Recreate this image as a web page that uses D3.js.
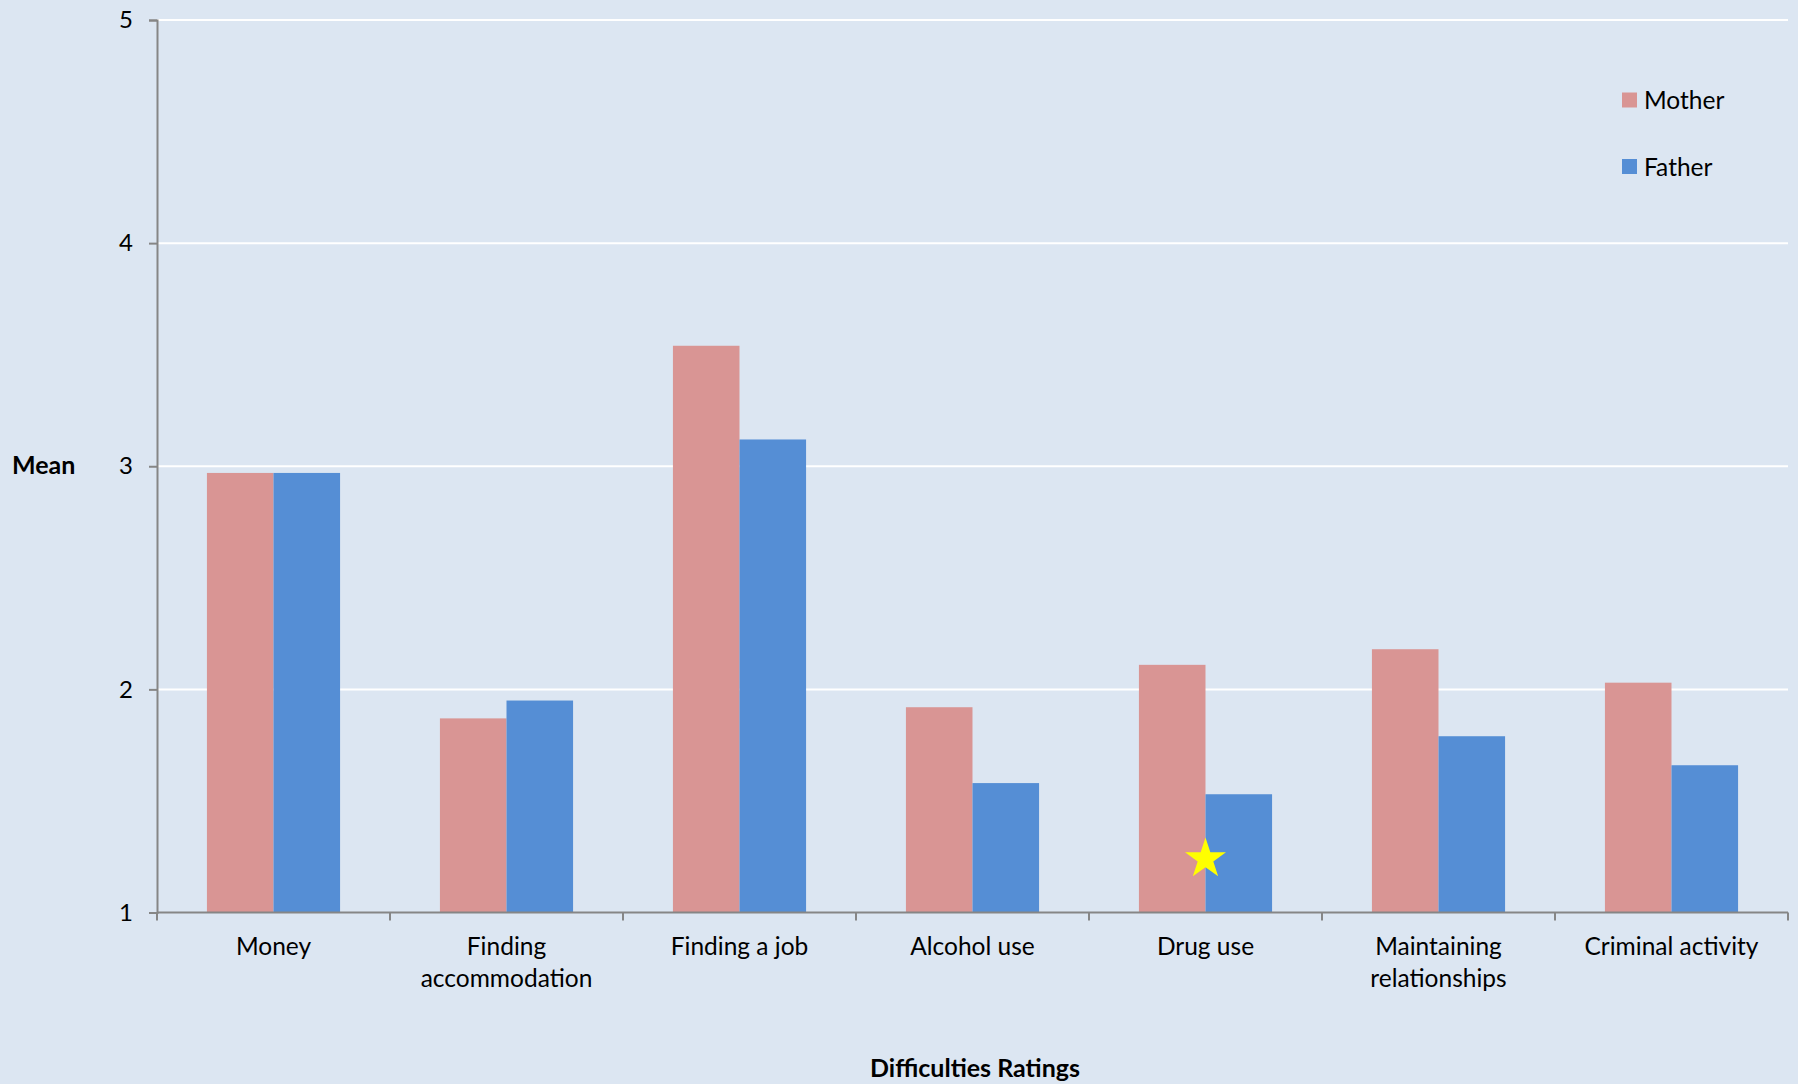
<!DOCTYPE html>
<html>
<head>
<meta charset="utf-8">
<script src="https://cdn.jsdelivr.net/npm/d3@7"></script>
<style>
html,body{margin:0;padding:0;background:#DCE6F2;}
svg{display:block;}
text{font-family:Lato,"Open Sans",sans-serif;fill:#000;}
</style>
</head>
<body>
<svg id="chart" width="1798" height="1084"></svg>
<script>
const categories = [["Money"],["Finding","accommodation"],["Finding a job"],["Alcohol use"],["Drug use"],["Maintaining","relationships"],["Criminal activity"]];
const seriesNames = ["Mother","Father"];
const motherValues = [2.97,1.87,3.54,1.92,2.11,2.18,2.03];
const fatherValues = [2.97,1.95,3.12,1.58,1.53,1.79,1.66];
const yTicks = [1,2,3,4,5];
const starMark = {category:4, value:1.24};
const colors = {Mother:"#D99594", Father:"#558ED5"};

const svg = d3.select("#chart");
const W = 1798, H = 1084;
const x0 = 157, x1 = 1788, yTop = 20, yBot = 912.5;

svg.append("rect").attr("width",W).attr("height",H).attr("fill","#DCE6F2");

const idx = categories.map((d,i)=>i);
const x = d3.scaleBand().domain(idx).range([x0,x1]).paddingInner(0).paddingOuter(0);
const xs = d3.scaleBand().domain(seriesNames).range([0,x.bandwidth()]).paddingInner(0).paddingOuter(0.75);
const y = d3.scaleLinear().domain([1,5]).range([yBot,yTop]);

// gridlines
svg.append("g").selectAll("line").data(yTicks.filter(t=>t>1)).join("line")
  .attr("x1",x0).attr("x2",x1).attr("y1",d=>y(d)).attr("y2",d=>y(d))
  .attr("stroke","#FFFFFF").attr("stroke-width",2);

// bars
const data = idx.map(i=>({i, vals:[{s:"Mother",v:motherValues[i]},{s:"Father",v:fatherValues[i]}]}));
const g = svg.append("g");
g.selectAll("g").data(data).join("g")
  .attr("transform",d=>`translate(${x(d.i)},0)`)
  .selectAll("rect").data(d=>d.vals).join("rect")
  .attr("x",d=>xs(d.s)).attr("width",xs.bandwidth())
  .attr("y",d=>y(d.v)).attr("height",d=>y(1)-y(d.v))
  .attr("fill",d=>colors[d.s]);

// y axis
const yAxis = svg.append("g").attr("transform",`translate(${x0},0)`)
  .call(d3.axisLeft(y).tickValues(yTicks).tickSize(8).tickPadding(16).tickFormat(d3.format("d")));
yAxis.select(".domain").attr("stroke","#868686").attr("stroke-width",2);
yAxis.selectAll(".tick line").attr("stroke","#868686").attr("stroke-width",2);
yAxis.selectAll(".tick text").attr("font-size",24).attr("font-family","Lato").attr("fill","#000");

// x axis
const xAxis = svg.append("g").attr("transform",`translate(0,${yBot})`);
xAxis.append("line").attr("x1",x0).attr("x2",x1).attr("stroke","#868686").attr("stroke-width",2);
const bounds = idx.map(i=>x(i)).concat([x1]);
xAxis.selectAll(".bt").data(bounds).join("line").attr("class","bt")
  .attr("x1",d=>d).attr("x2",d=>d).attr("y1",0).attr("y2",8)
  .attr("stroke","#868686").attr("stroke-width",2);

// category labels
const lab = svg.append("g").selectAll("text").data(data).join("text")
  .attr("x",d=>x(d.i)+x.bandwidth()/2).attr("y",955)
  .attr("text-anchor","middle").attr("font-size",24.5);
lab.selectAll("tspan").data(d=>categories[d.i].map((t,k)=>({t,k,cx:x(d.i)+x.bandwidth()/2}))).join("tspan")
  .attr("x",d=>d.cx).attr("dy",(d)=>d.k===0?0:32).text(d=>d.t);

// star
svg.append("path")
  .attr("d", d3.symbol().type(d3.symbolStar).size(520)())
  .attr("transform",`translate(${x(starMark.category)+x.bandwidth()/2},${y(starMark.value)})`)
  .attr("fill","#FFFF00");

// axis titles
svg.append("text").attr("x",12).attr("y",474).attr("font-size",25).attr("font-weight","bold").text("Mean");
svg.append("text").attr("x",975).attr("y",1077).attr("text-anchor","middle").attr("font-size",25).attr("font-weight","bold").text("Difficulties Ratings");

// legend
const leg = svg.append("g").selectAll("g").data(seriesNames).join("g")
  .attr("transform",(d,i)=>`translate(1622,${100+i*66.5})`);
leg.append("rect").attr("x",0).attr("y",-7.5).attr("width",15).attr("height",15).attr("fill",d=>colors[d]);
leg.append("text").attr("x",22).attr("y",9).attr("font-size",24.5).text(d=>d);
</script>
</body>
</html>
